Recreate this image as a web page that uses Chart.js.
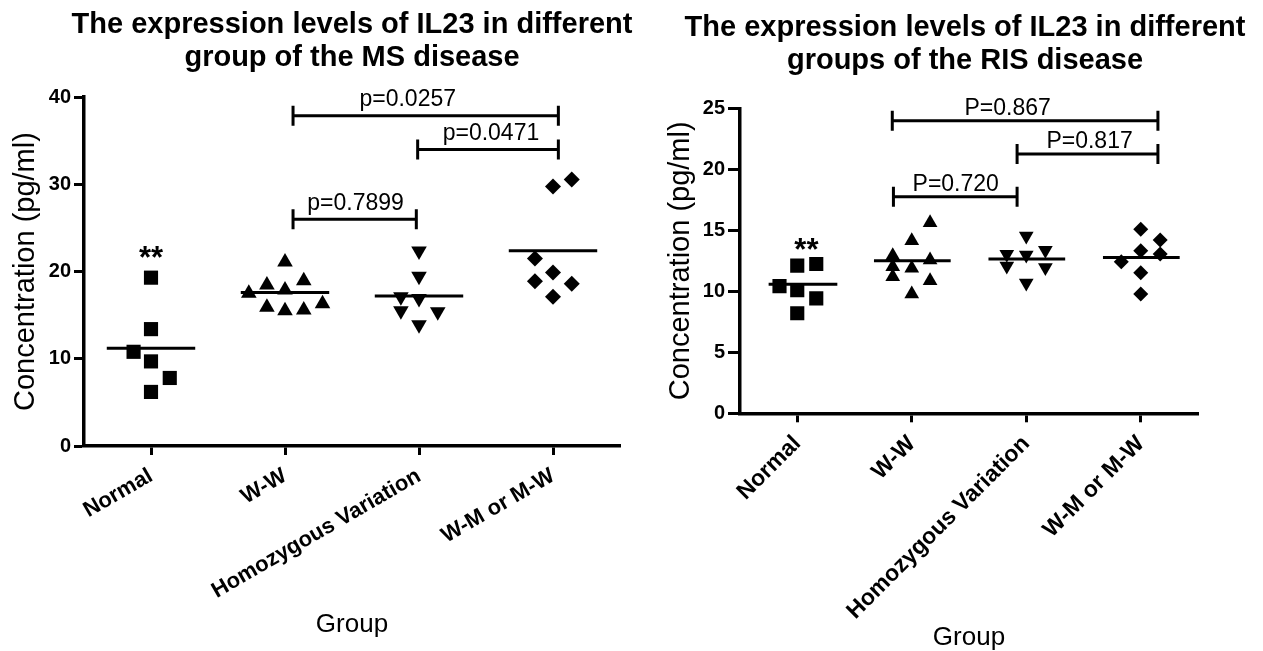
<!DOCTYPE html>
<html><head><meta charset="utf-8">
<script src="https://cdn.jsdelivr.net/npm/chart.js@4.4.1/dist/chart.umd.min.js"></script>
<style>
html,body{margin:0;padding:0;background:#fff;overflow:hidden;}
#wrap{position:relative;width:1263px;height:651px;overflow:hidden;background:#fff;}
#c1{position:absolute;left:0;top:0;}
#c2{position:absolute;left:660px;top:0;}
</style></head><body>
<div id="wrap"><canvas id="c1" width="704" height="651"></canvas><canvas id="c2" width="610" height="651"></canvas></div>
<script>
// ---------- shared ----------
const groups = ['Normal', 'W-W', 'Homozygous Variation', 'W-M or M-W'];

// ---------- MS disease (left panel) ----------
const msTitle = ['The expression levels of IL23 in different', 'group of the MS disease'];
const msYTicks = [0, 10, 20, 30, 40];
const msNormal = [19.3, 13.4, 10.8, 9.7, 7.8, 6.2];
const msWW     = [21.1, 18.45, 18.95, 17.5, 17.9, 15.9, 15.5, 15.6, 16.3];
const msHomo   = [22.35, 19.45, 17.1, 16.9, 15.5, 15.4, 13.9];
const msWM     = [29.75, 30.55, 21.5, 19.9, 18.9, 18.6, 17.1];
const msMeans  = [11.2, 17.6, 17.2, 22.4];
const msPLabels = ['p=0.0257', 'p=0.0471', 'p=0.7899'];
const msPFrom   = [1.06, 1.99, 1.06];
const msPTo     = [3.04, 3.04, 1.98];
const msPY      = [37.86, 34.0, 26.0];
const msStarY   = 22.3;

// ---------- RIS disease (right panel) ----------
const risTitle = ['The expression levels of IL23 in different', 'groups of the RIS disease'];
const risYTicks = [0, 5, 10, 15, 20, 25];
const risNormal = [12.1, 12.24, 10.43, 10.1, 9.42, 8.2];
const risWW     = [15.63, 14.15, 12.92, 12.57, 12.02, 11.88, 11.2, 10.87, 9.78];
const risHomo   = [14.53, 13.04, 12.98, 13.36, 12.08, 11.96, 10.68];
const risWM     = [15.08, 14.2, 13.33, 13.06, 12.43, 11.53, 9.78];
const risMeans  = [10.57, 12.51, 12.65, 12.78];
const risPLabels = ['P=0.867', 'P=0.817', 'P=0.720'];
const risPFrom   = [0.83, 1.92, 0.84];
const risPTo     = [3.15, 3.15, 1.92];
const risPY      = [23.98, 21.25, 17.75];
const risStarY   = 13.93;

// ---------- layout (positions / jitter, not data) ----------
const msJitter = [
  [0, 0, -0.13, 0, 0.14, 0],
  [0, -0.135, 0.14, -0.27, 0, -0.135, 0, 0.14, 0.28],
  [0, 0, -0.135, 0, -0.135, 0.14, 0],
  [0, 0.14, -0.135, 0, -0.135, 0.14, 0]
];
const msLabelX = [1.916, 2.537, 1.527];
const risJitter = [
  [0, 0.166, -0.155, 0, 0.166, 0],
  [0.16, 0, -0.166, 0.16, -0.166, 0, -0.166, 0.16, 0],
  [0, -0.17, 0, 0.167, -0.17, 0.167, 0],
  [0, 0.17, 0, 0.17, -0.17, 0, 0]
];
const risLabelX = [1.837, 2.553, 1.384];
const meanHalfLeft  = [0.33, 0.33, 0.33, 0.33];
const meanHalfRight = [0.33, 0.33, 0.33, 0.33];
const risMeanHalfLeft = [0.25, 0.33, 0.33, 0.33];
const risMeanHalfRight = [0.35, 0.34, 0.34, 0.34];

const F = "'Liberation Sans', Arial, Helvetica, sans-serif";
const styles = [
  {pointStyle: 'rect', rot: 0},
  {pointStyle: 'triangle', rot: 0},
  {pointStyle: 'triangle', rot: 180},
  {pointStyle: 'rectRot', rot: 0}
];

const annot = {
  id: 'annot',
  afterDatasetsDraw(chart, args, o) {
    const ctx = chart.ctx, xs = chart.scales.x, ys = chart.scales.y;
    ctx.save();
    ctx.strokeStyle = '#000';
    ctx.fillStyle = '#000';
    ctx.lineWidth = 3;
    o.labels.forEach((lab, i) => {
      const x1 = xs.getPixelForValue(o.from[i]);
      const x2 = xs.getPixelForValue(o.to[i]);
      const y = ys.getPixelForValue(o.y[i]);
      ctx.beginPath();
      ctx.moveTo(x1, y - o.tick); ctx.lineTo(x1, y + o.tick);
      ctx.moveTo(x1, y); ctx.lineTo(x2, y);
      ctx.moveTo(x2, y - o.tick); ctx.lineTo(x2, y + o.tick);
      ctx.stroke();
      ctx.font = o.font;
      ctx.textAlign = 'center';
      ctx.textBaseline = 'alphabetic';
      ctx.fillText(lab, xs.getPixelForValue(o.labelX[i]), y - o.gap);
    });
    ctx.font = o.starFont;
    ctx.textAlign = 'center';
    ctx.textBaseline = 'alphabetic';
    ctx.fillText('**', xs.getPixelForValue(o.starX), ys.getPixelForValue(o.starY) + o.starDy);
    ctx.restore();
  }
};

function buildDatasets(series, jitter, means, hl, hr, sizes) {
  const ds = [];
  series.forEach((vals, g) => {
    ds.push({
      data: vals.map((v, k) => ({x: g + jitter[g][k], y: v})),
      pointStyle: styles[g].pointStyle,
      rotation: styles[g].rot,
      pointRadius: sizes[g],
      backgroundColor: '#000',
      borderColor: '#000',
      borderWidth: 0,
      showLine: false
    });
  });
  means.forEach((m, g) => {
    ds.push({
      data: [{x: g - hl[g], y: m}, {x: g + hr[g], y: m}],
      showLine: true,
      pointRadius: 0,
      borderColor: '#000',
      borderWidth: 3,
      fill: false
    });
  });
  return ds;
}

function makeChart(el, p) {
  return new Chart(el, {
    type: 'scatter',
    data: {datasets: buildDatasets(p.series, p.jitter, p.means, p.hl, p.hr, p.sizes)},
    plugins: [annot],
    options: {
      responsive: false,
      animation: false,
      devicePixelRatio: 1,
      layout: {padding: {left: 0, right: 0, top: 0, bottom: 0}},
      plugins: {
        legend: {display: false},
        tooltip: {enabled: false},
        title: {
          display: true, text: p.title, color: '#000', fullSize: true,
          font: {family: F, size: 29, weight: 'bold', lineHeight: 1.14},
          padding: {top: p.titleTop, bottom: p.titleBottom}
        },
        annot: {
          labels: p.pLabels, from: p.pFrom, to: p.pTo, y: p.pY, labelX: p.labelX,
          tick: 10, gap: p.gap, font: '23px ' + F,
          starFont: 'bold 31px ' + F, starX: p.starX, starY: p.starY, starDy: 17
        }
      },
      scales: {
        x: {
          type: 'linear', min: -0.5, max: 3.5,
          afterBuildTicks: s => { s.ticks = groups.map((g, i) => ({value: i})); },
          afterFit: s => { s.height = p.xHeight; },
          ticks: {
            callback: v => groups[v], autoSkip: false,
            minRotation: p.rot, maxRotation: p.rot,
            font: {family: F, size: p.xFont, weight: 'bold'}, color: '#000', padding: p.xPad
          },
          grid: {display: true, drawOnChartArea: false, drawTicks: true, tickLength: 9, tickWidth: 3, tickColor: '#000', color: '#000'},
          border: {display: true, width: 3.5, color: '#000'},
          title: {display: true, text: 'Group', color: '#000', font: {family: F, size: 26, lineHeight: 1}, padding: {top: 0, bottom: p.groupPad}}
        },
        y: {
          type: 'linear', min: p.yTicks[0], max: p.yTicks[p.yTicks.length - 1],
          afterBuildTicks: s => { s.ticks = p.yTicks.map(v => ({value: v})); },
          afterFit: s => { s.width = p.yWidth; },
          ticks: {font: {family: F, size: 20, weight: 'bold'}, color: '#000', padding: 3},
          grid: {display: true, drawOnChartArea: false, drawTicks: true, tickLength: p.yTick, tickWidth: 3, tickColor: '#000', color: '#000'},
          border: {display: true, width: 3.5, color: '#000'},
          title: {display: true, text: 'Concentration (pg/ml)', color: '#000', font: {family: F, size: 29, lineHeight: 1}, padding: {top: p.yTitlePad, bottom: 0}}
        },
        spacer: {
          type: 'linear', position: 'right', display: true,
          ticks: {display: false}, grid: {display: false}, border: {display: false},
          afterFit: s => { s.width = p.padRight; }
        }
      }
    }
  });
}

makeChart(document.getElementById('c1'), {
  series: [msNormal, msWW, msHomo, msWM], jitter: msJitter, means: msMeans,
  hl: meanHalfLeft, hr: meanHalfRight, sizes: [10, 9, 9, 8],
  title: msTitle, titleTop: 8, titleBottom: 23, padRight: 84,
  pLabels: msPLabels, pFrom: msPFrom, pTo: msPTo, pY: msPY, labelX: msLabelX, gap: 9.5,
  starX: 0, starY: msStarY,
  xHeight: 205, rot: 30, xFont: 22, xPad: 8, groupPad: 13,
  yTicks: msYTicks, yWidth: 84, yTick: 10, yTitlePad: 11
});

makeChart(document.getElementById('c2'), {
  series: [risNormal, risWW, risHomo, risWM], jitter: risJitter, means: risMeans,
  hl: risMeanHalfLeft, hr: risMeanHalfRight, sizes: [10, 8.5, 8.5, 7.5],
  title: risTitle, titleTop: 11.5, titleBottom: 30.7, padRight: 72,
  pLabels: risPLabels, pFrom: risPFrom, pTo: risPTo, pY: risPY, labelX: risLabelX, gap: 6,
  starX: 0.08, starY: risStarY,
  xHeight: 237.7, rot: 45, xFont: 23, xPad: 8, groupPad: 0,
  yTicks: risYTicks, yWidth: 80, yTick: 12, yTitlePad: 6
});
</script>
</body></html>
